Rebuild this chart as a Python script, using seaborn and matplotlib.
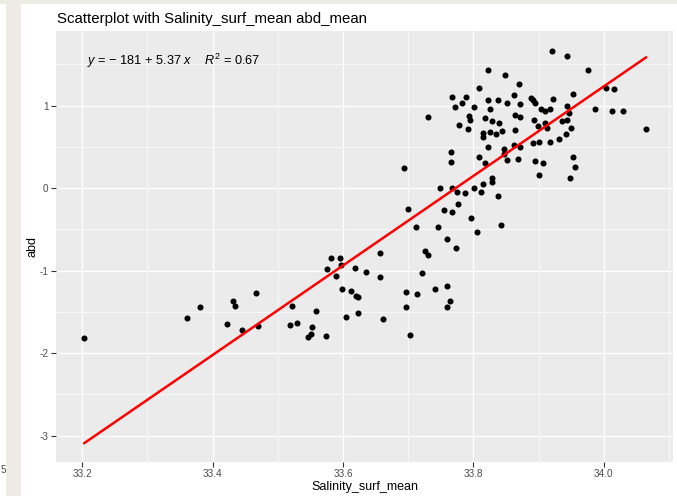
import matplotlib
matplotlib.use("Agg")
import matplotlib.pyplot as plt
import seaborn as sns
import pandas as pd
from matplotlib.patches import Rectangle
from matplotlib.ticker import MultipleLocator, FixedLocator

# ---------------- data ----------------
salinity = [
    33.921, 33.943, 33.975, 33.823, 33.849, 33.870, 33.808, 34.004, 34.016, 33.953,
    33.767, 33.788, 33.862, 33.888, 33.891, 33.895, 33.922, 33.822, 33.837, 33.783,
    33.852, 33.871, 33.772, 33.801, 33.825, 33.904, 33.909, 33.917, 33.944, 33.947,
    33.986, 34.012, 34.029, 33.730, 33.793, 33.794, 33.817, 33.863, 33.872, 33.893,
    33.936, 33.943, 33.828, 33.839, 33.778, 33.910, 33.899, 33.913, 33.792, 33.864,
    33.844, 33.950, 34.065, 33.814, 33.826, 33.835, 33.815, 33.942, 33.931, 33.892,
    33.901, 33.917, 33.862, 33.871, 33.822, 33.847, 33.847, 33.766, 33.808, 33.852,
    33.869, 33.952, 33.766, 33.818, 33.895, 33.907, 33.956, 33.693, 33.901, 33.948,
    33.828, 33.829, 33.815, 33.748, 33.767, 33.801, 33.775, 33.787, 33.812, 33.838,
    33.699, 33.755, 33.767, 33.777, 33.797, 33.712, 33.745, 33.843, 33.805, 33.759,
    33.773, 33.725, 33.731, 33.721, 33.741, 33.759, 33.764, 33.759, 33.696, 33.714,
    33.696, 33.702, 33.657, 33.656, 33.662, 33.635, 33.618, 33.582, 33.596, 33.597,
    33.575, 33.589, 33.598, 33.613, 33.620, 33.623, 33.623, 33.605, 33.559, 33.522,
    33.519, 33.529, 33.552, 33.547, 33.551, 33.574, 33.467, 33.431, 33.435, 33.422,
    33.445, 33.469, 33.381, 33.361, 33.203,
]
abd = [
    1.663, 1.602, 1.429, 1.429, 1.369, 1.267, 1.212, 1.212, 1.200, 1.143,
    1.103, 1.110, 1.127, 1.098, 1.070, 1.037, 1.079, 1.067, 1.070, 1.037,
    1.030, 1.022, 0.985, 0.989, 0.958, 0.953, 0.929, 0.953, 0.994, 0.909,
    0.958, 0.929, 0.937, 0.856, 0.868, 0.825, 0.844, 0.885, 0.865, 0.828,
    0.813, 0.828, 0.808, 0.784, 0.768, 0.788, 0.752, 0.728, 0.711, 0.704,
    0.692, 0.723, 0.719, 0.663, 0.675, 0.659, 0.619, 0.659, 0.599, 0.542,
    0.559, 0.559, 0.526, 0.502, 0.493, 0.469, 0.409, 0.441, 0.381, 0.345,
    0.353, 0.381, 0.312, 0.308, 0.329, 0.305, 0.256, 0.245, 0.160, 0.119,
    0.123, 0.075, 0.052, -0.004, 0.006, 0.006, -0.045, -0.058, -0.042, -0.091,
    -0.252, -0.262, -0.294, -0.197, -0.359, -0.468, -0.475, -0.441, -0.526, -0.614,
    -0.728, -0.759, -0.810, -1.025, -1.218, -1.187, -1.363, -1.439, -1.264, -1.288,
    -1.443, -1.784, -0.792, -1.074, -1.590, -1.012, -0.973, -0.843, -0.843, -0.931,
    -0.979, -1.070, -1.227, -1.248, -1.302, -1.316, -1.509, -1.566, -1.493, -1.429,
    -1.663, -1.635, -1.683, -1.802, -1.771, -1.796, -1.267, -1.364, -1.424, -1.647,
    -1.721, -1.666, -1.445, -1.570, -1.816,
]
x_ticks = [33.2, 33.4, 33.6, 33.8, 34.0]
x_tick_labels = ["33.2", "33.4", "33.6", "33.8", "34.0"]
y_ticks = [-3, -2, -1, 0, 1]
y_tick_labels = ["-3", "-2", "-1", "0", "1"]
title = "Scatterplot with Salinity_surf_mean abd_mean"
x_label = "Salinity_surf_mean"
y_label = "abd"
eq_label = "$y$ = \u2212 181 + 5.37 $x$    $R^2$ = 0.67"

# ---------------- style ----------------
sns.set_theme(style="darkgrid", rc={"axes.facecolor": "#EBEBEB", "grid.color": "white"})
plt.rcParams["font.family"] = ["Liberation Sans", "DejaVu Sans"]
plt.rcParams["mathtext.fontset"] = "custom"
plt.rcParams["mathtext.rm"] = "Liberation Sans"
plt.rcParams["mathtext.it"] = "Liberation Sans:italic"

W, H = 677, 496
fig = plt.figure(figsize=(W / 100, H / 100), dpi=100)
fig.patch.set_facecolor("white")
beige = "#EEEBE4"
fig.patches.append(Rectangle((6 / W, 0), 15 / W, 1, transform=fig.transFigure,
                             facecolor=beige, edgecolor="none", zorder=-5))
fig.patches.append(Rectangle((0, 1 - 4 / H), 1, 4 / H, transform=fig.transFigure,
                             facecolor=beige, edgecolor="none", zorder=-5))
fig.text(1 / W, 1 - 470 / H, "5", fontsize=7, color="#4D4D4D", ha="left", va="center")

left, right, top, bottom = 56, 673, 31, 462
ax = fig.add_axes([left / W, (H - bottom) / H, (right - left) / W, (bottom - top) / H])

df = pd.DataFrame({x_label: salinity, y_label: abd})
sns.regplot(data=df, x=x_label, y=y_label, ci=None, ax=ax,
            scatter_kws=dict(s=19, color="black", linewidths=0, alpha=1, zorder=3),
            line_kws=dict(color="red", lw=1.8, zorder=4))

ax.set_xlim(33.160, 34.106)
ax.set_ylim(-3.319, 1.904)
ax.xaxis.set_major_locator(FixedLocator(x_ticks))
ax.set_xticklabels(x_tick_labels)
ax.yaxis.set_major_locator(FixedLocator(y_ticks))
ax.set_yticklabels(y_tick_labels)
ax.xaxis.set_minor_locator(MultipleLocator(0.1))
ax.yaxis.set_minor_locator(MultipleLocator(0.5))
ax.set_axisbelow(True)
ax.grid(which="major", color="white", lw=1.0)
ax.grid(which="minor", color="white", lw=0.5)
for s in ax.spines.values():
    s.set_visible(False)
ax.tick_params(axis="both", which="major", length=3.5, width=0.8, color="#333333",
               labelcolor="#4D4D4D", labelsize=7.2, pad=1.8, direction="out",
               bottom=True, left=True)
ax.tick_params(axis="both", which="minor", length=0)

ax.set_xlabel(x_label, fontsize=9, color="black", labelpad=1.5)
ax.set_ylabel(y_label, fontsize=9, color="black", labelpad=0.5)

ax.text((87 - left) / (right - left), (bottom - 61) / (bottom - top), eq_label,
        transform=ax.transAxes, ha="left", va="center", fontsize=9.2, color="black")

fig.text(57 / W, 1 - 19 / H, title, fontsize=10.8, color="black", ha="left", va="center")

fig.savefig("out.png", dpi=100, facecolor=fig.get_facecolor())
